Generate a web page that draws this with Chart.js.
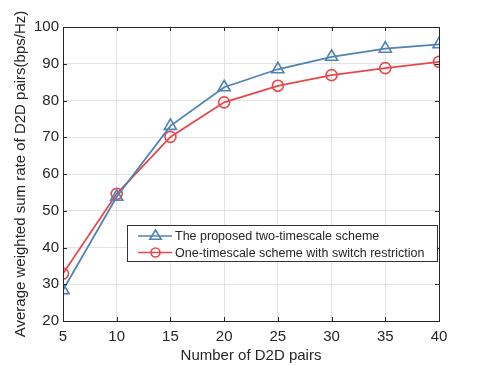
<!DOCTYPE html>
<html><head><meta charset="utf-8">
<script src="https://cdn.jsdelivr.net/npm/chart.js@4/dist/chart.umd.min.js"></script>
<style>html,body{margin:0;padding:0;background:#fff}#wrap{width:485px;height:365px}</style>
</head><body><div id="wrap"><canvas id="c" width="485" height="365"></canvas></div>
<script>
const categories = [5, 10, 15, 20, 25, 30, 35, 40];
const proposedTwoTimescale = [28.4, 53.8, 73.1, 83.6, 88.5, 91.9, 94.1, 95.3];
const oneTimescaleSwitch = [32.9, 54.6, 70.1, 79.5, 84.0, 86.9, 88.8, 90.5];
const seriesNames = ['The proposed two-timescale scheme', 'One-timescale scheme with switch restriction'];
const yTicks = [20, 30, 40, 50, 60, 70, 80, 90, 100];
const xTicks = [5, 10, 15, 20, 25, 30, 35, 40];

const BLUE = '#4f83b3', RED = '#e8474b', TXT = '#262626', FONT = '"Liberation Sans", Arial, sans-serif';

const boxPlugin = {
  id: 'boxPlugin',
  afterDraw(chart) {
    const {ctx, chartArea: a, scales} = chart;
    ctx.save();
    ctx.strokeStyle = '#262626';
    ctx.lineWidth = 1;
    ctx.beginPath();
    xTicks.forEach(v => {
      const x = Math.round(scales.x.getPixelForValue(v)) + 0.5;
      ctx.moveTo(x, a.bottom); ctx.lineTo(x, a.bottom - 4);
      ctx.moveTo(x, a.top); ctx.lineTo(x, a.top + 4);
    });
    yTicks.forEach(v => {
      const y = Math.round(scales.y.getPixelForValue(v)) + 0.5;
      ctx.moveTo(a.left, y); ctx.lineTo(a.left + 4, y);
      ctx.moveTo(a.right, y); ctx.lineTo(a.right - 4, y);
    });
    ctx.stroke();
    ctx.strokeRect(Math.round(a.left) + 0.5, Math.round(a.top) + 0.5, Math.round(a.right - a.left), Math.round(a.bottom - a.top));
    // legend
    const lx = 127, ly = 225, lw = 310, lh = 36;
    ctx.fillStyle = '#fff';
    ctx.fillRect(lx, ly, lw, lh);
    ctx.strokeStyle = '#333';
    ctx.strokeRect(lx + 0.5, ly + 0.5, lw, lh);
    ctx.font = '12.5px ' + FONT;
    ctx.textBaseline = 'middle';
    chart.data.datasets.forEach((ds, i) => {
      const yy = ly + 11 + i * 16.5;
      ctx.strokeStyle = ds.borderColor; ctx.lineWidth = 1.6;
      ctx.beginPath(); ctx.moveTo(138, yy); ctx.lineTo(172, yy); ctx.stroke();
      ctx.beginPath();
      if (ds.pointStyle === 'triangle') {
        const r = 6;
        ctx.moveTo(155.5, yy - r); ctx.lineTo(155.5 + r * 0.95, yy + r * 0.55); ctx.lineTo(155.5 - r * 0.95, yy + r * 0.55); ctx.closePath();
      } else {
        ctx.arc(155.5, yy, 4.5, 0, Math.PI * 2);
      }
      ctx.stroke();
      ctx.fillStyle = TXT;
      ctx.fillText(ds.label, 175, yy + 1);
    });
    ctx.restore();
  }
};

new Chart(document.getElementById('c'), {
  type: 'line',
  data: {
    datasets: [
      { label: seriesNames[0], data: categories.map((x, i) => ({x, y: proposedTwoTimescale[i]})),
        borderColor: BLUE, backgroundColor: 'rgba(0,0,0,0)', borderWidth: 1.8,
        pointStyle: 'triangle', pointRadius: 7, pointBorderWidth: 1.6, pointBackgroundColor: 'rgba(0,0,0,0)', pointBorderColor: BLUE, tension: 0 },
      { label: seriesNames[1], data: categories.map((x, i) => ({x, y: oneTimescaleSwitch[i]})),
        borderColor: RED, backgroundColor: 'rgba(0,0,0,0)', borderWidth: 1.8,
        pointStyle: 'circle', pointRadius: 5.5, pointBorderWidth: 1.6, pointBackgroundColor: 'rgba(0,0,0,0)', pointBorderColor: RED, tension: 0 }
    ]
  },
  options: {
    responsive: false, animation: false, devicePixelRatio: 1,
    layout: { padding: { left: 12, right: 46, top: 27, bottom: 0 } },
    plugins: { legend: { display: false }, tooltip: { enabled: false } },
    scales: {
      x: { type: 'linear', min: 5, max: 40,
        afterBuildTicks: ax => { ax.ticks = xTicks.map(v => ({value: v})); },
        afterFit: ax => { ax.height = 44; },
        grid: { color: '#e3e3e3', drawTicks: false },
        border: { display: false },
        ticks: { color: TXT, font: { family: FONT, size: 15 }, padding: 7, maxRotation: 0 },
        title: { display: true, text: 'Number of D2D pairs', color: TXT, font: { family: FONT, size: 15 }, padding: { top: 0, bottom: 0 } } },
      y: { type: 'linear', min: 20, max: 100,
        afterBuildTicks: ax => { ax.ticks = yTicks.map(v => ({value: v})); },
        afterFit: ax => { ax.width = 51; },
        grid: { color: '#e3e3e3', drawTicks: false },
        border: { display: false },
        ticks: { color: TXT, font: { family: FONT, size: 15 }, padding: 4 },
        title: { display: true, text: 'Average weighted sum rate of D2D pairs(bps/Hz)', color: TXT, font: { family: FONT, size: 15 }, padding: { top: 0, bottom: 0 } } }
    }
  },
  plugins: [boxPlugin]
});
</script>
</body></html>
